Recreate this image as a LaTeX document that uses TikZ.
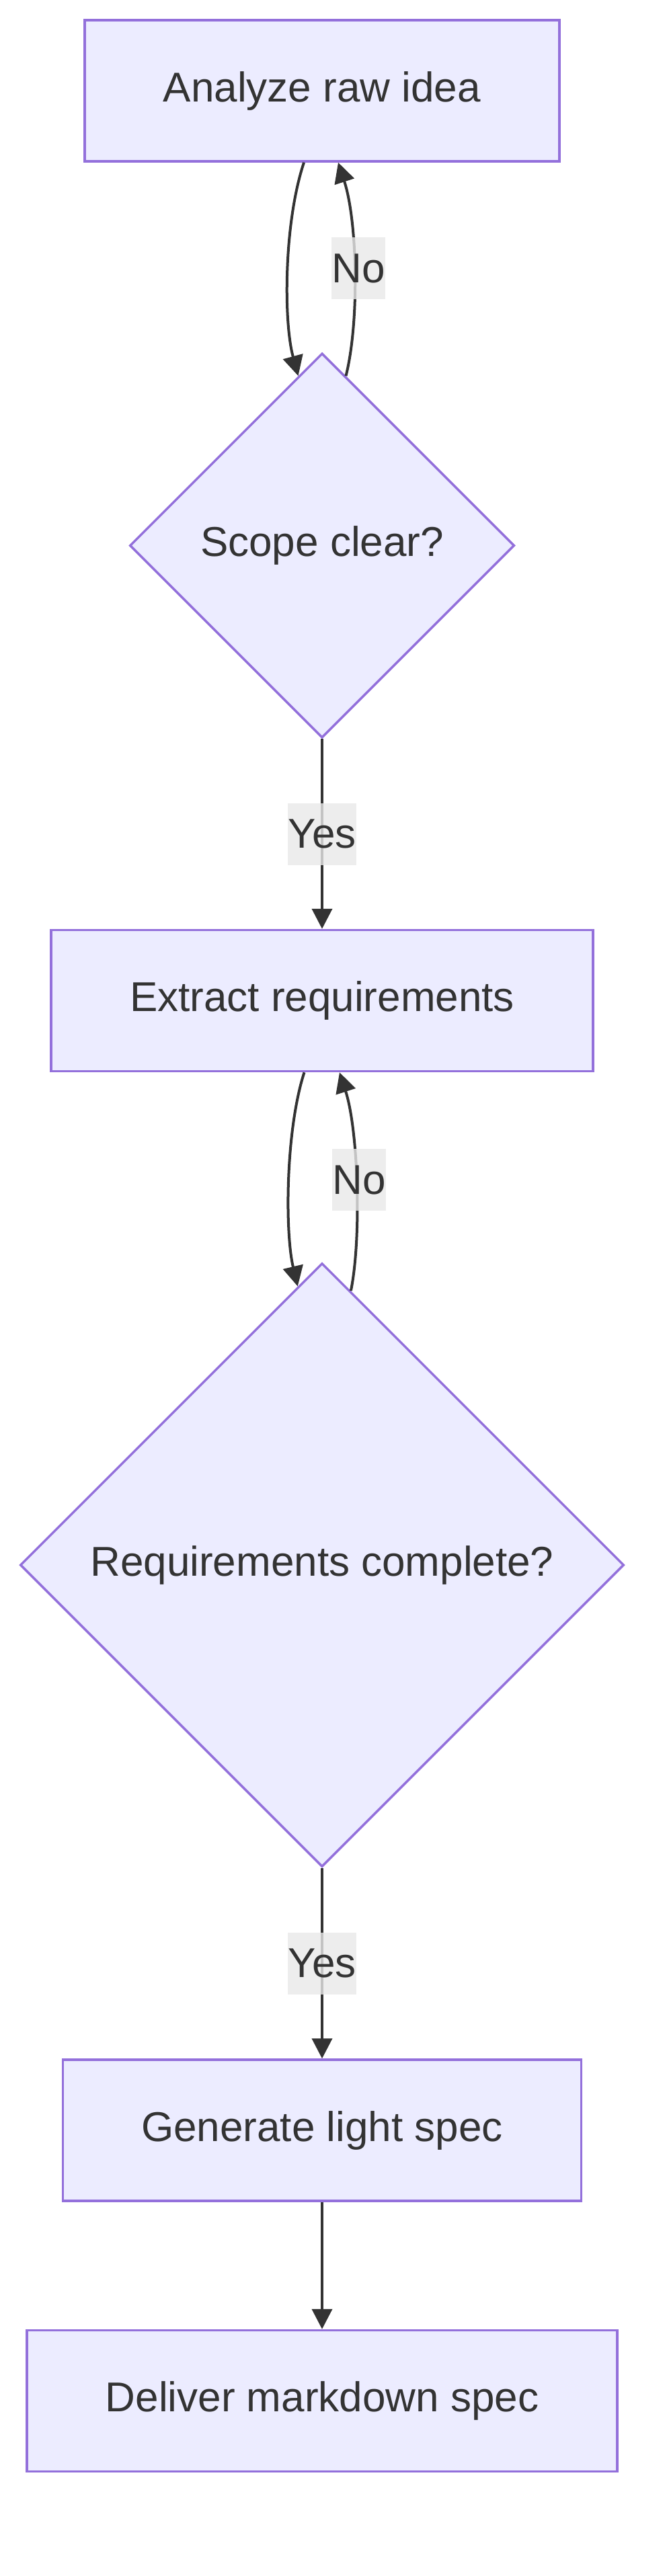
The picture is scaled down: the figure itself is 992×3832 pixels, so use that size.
\documentclass[tikz,border=0pt]{standalone}
\usepackage{fontspec}
\setmainfont{Liberation Sans}
\usetikzlibrary{shapes.geometric,arrows.meta,calc}
\definecolor{nodefill}{HTML}{ECECFF}
\definecolor{nodeline}{HTML}{9370DB}
\definecolor{ink}{HTML}{333333}
\definecolor{lblbg}{HTML}{E8E8E8}
\begin{document}
\begin{tikzpicture}[x=1pt,y=-1pt,
  every node/.style={font=\fontsize{62}{74}\selectfont, text=ink},
  procbox/.style={rectangle, draw=nodeline, fill=nodefill, line width=3.5pt, inner sep=0pt, minimum height=210pt},
  decision/.style={diamond, draw=nodeline, fill=nodefill, line width=3.5pt, inner sep=0pt, aspect=1},
  edge/.style={draw=ink, line width=4pt, -{Triangle[length=30pt,width=30pt]}},
  lbl/.style={fill=lblbg, fill opacity=0.8, text opacity=1, inner sep=0pt, minimum height=92pt}]
\useasboundingbox (0,0) rectangle (992,3832);

\node[procbox, minimum width=706pt] (A) at (479,135) {Analyze raw idea};
\node[decision, minimum width=572pt, minimum height=572pt] (B) at (479,811.5) {Scope clear?};
\node[procbox, minimum width=806pt] (C) at (479,1488.5) {Extract requirements};
\node[decision, minimum width=898pt, minimum height=898pt] (D) at (479,2328) {Requirements complete?};
\node[procbox, minimum width=771pt] (E) at (479,3169) {Generate light spec};
\node[procbox, minimum width=878pt] (F) at (479,3571.5) {Deliver markdown spec};

% A <-> B loop
\draw[edge] ($(A.south)+(-27,0)$) .. controls +(-30,90) and +(-22,-81) .. (B.98.4);
\draw[edge] (B.82.6) .. controls +(20,-79) and +(29,89) .. ($(A.south)+(24,0)$);
\node[lbl] (noA) at (533,399) {No};

% B -> C
\draw[edge] (B.south) -- node[lbl] (yesB) {Yes} (C.north);

% C <-> D loop
\draw[edge] ($(C.south)+(-26.5,0)$) .. controls +(-28,86.5) and +(-19,-80) .. (D.95.9);
\draw[edge] (D.84.5) .. controls +(16,-79) and +(28,86.5) .. ($(C.south)+(26,0)$);
\node[lbl] (noC) at (534,1755) {No};

% D -> E
\draw[edge] (D.south) -- node[lbl] (yesD) {Yes} (E.north);

% E -> F
\draw[edge] (E.south) -- (F.north);
\end{tikzpicture}
\end{document}
